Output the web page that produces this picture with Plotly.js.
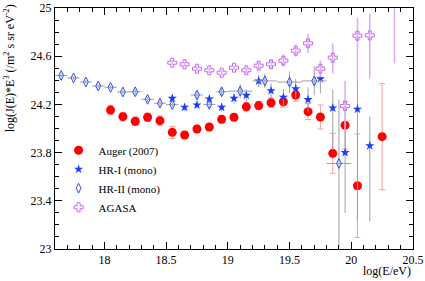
<!DOCTYPE html>
<html>
<head>
<meta charset="utf-8">
<script src="https://cdn.plot.ly/plotly-3.0.1.min.js"></script>
<style>html,body{margin:0;padding:0;background:#fff;}#chart{width:425px;height:281px;}</style>
</head>
<body>
<div id="chart"></div>
<script>
// ---- data ----
var augerX = [18.05,18.15,18.25,18.35,18.45,18.55,18.65,18.75,18.85,18.95,19.05,19.15,19.25,19.35,19.45,19.55,19.65,19.75,19.85,19.95,20.05,20.25];
var augerY = [24.153,24.098,24.06,24.093,24.065,23.968,23.946,23.996,24.012,24.076,24.093,24.18,24.19,24.214,24.222,24.278,24.14,24.095,23.794,24.027,23.525,23.932];
var augerErr = [0.04,0.035,0.035,0.035,0.04,0.05,0.03,0.03,0.03,0.03,0.03,0.035,0.035,0.04,0.045,0.05,0.066,0.1,0.166,0.2,0.43,0.44];

var hr1X = [18.55,18.65,18.75,18.85,18.95,19.05,19.15,19.25,19.35,19.45,19.55,19.65,19.75,19.85,19.95,20.05,20.15];
var hr1Y = [24.25,24.176,24.195,24.245,24.176,24.25,24.275,24.394,24.314,24.259,24.33,24.24,24.413,24.17,23.80,24.16,23.857];
var hr1ErrUp = [0.03,0.03,0.03,0.03,0.035,0.04,0.05,0.05,0.06,0.07,0.08,0.1,0.12,0.15,0.27,0.25,0.24];
var hr1ErrDn = [0.03,0.03,0.03,0.03,0.035,0.04,0.05,0.05,0.06,0.07,0.08,0.1,0.12,0.35,0.5,0.93,0.63];

var hr2X = [17.65,17.75,17.85,17.95,18.05,18.15,18.25,18.35,18.45,18.55,18.75,18.85,18.95,19.1,19.3,19.5,19.7,19.9];
var hr2Y = [24.44,24.42,24.386,24.353,24.342,24.303,24.305,24.242,24.21,24.198,24.278,24.20,24.305,24.31,24.395,24.385,24.395,23.71];
var hr2ErrY = [0.015,0.015,0.015,0.015,0.015,0.015,0.02,0.02,0.02,0.02,0.03,0.03,0.04,0.06,0.06,0.09,0.12,0.53];
var hr2ErrYDn = [0.015,0.015,0.015,0.015,0.015,0.015,0.02,0.02,0.02,0.02,0.03,0.03,0.04,0.06,0.06,0.09,0.12,0.8];
var hr2ErrX = [0.05,0.05,0.05,0.05,0.05,0.05,0.05,0.05,0.05,0.05,0.05,0.05,0.05,0.1,0.1,0.1,0.1,0.1];

var agasaX = [18.55,18.65,18.75,18.85,18.95,19.05,19.15,19.25,19.35,19.45,19.55,19.65,19.75,19.85,19.95,20.05,20.15,20.35];
var agasaY = [24.546,24.533,24.496,24.483,24.463,24.505,24.483,24.521,24.533,24.563,24.646,24.707,24.496,24.588,24.187,24.77,24.773,25.15];
var agasaErrUp = [0.02,0.02,0.02,0.02,0.02,0.02,0.025,0.03,0.035,0.05,0.05,0.08,0.07,0.12,0.21,0.15,0.18,0.3];
var agasaErrDn = [0.02,0.02,0.02,0.02,0.02,0.02,0.025,0.03,0.035,0.05,0.05,0.08,0.07,0.13,0.2,0.37,0.36,0.61];

var legendNames = ["Auger (2007)", "HR-I (mono)", "HR-II (mono)", "AGASA"];
var xTitle = "log(E/eV)";
var yTitle = "log(J(E)*E<sup>3</sup> (/m<sup>2</sup> s sr eV<sup>-2</sup>)";

// ---- traces ----
var serif = "Liberation Serif, Times New Roman, serif";
var traces = [
  {
    x: augerX, y: augerY, name: legendNames[0], type: "scatter", mode: "markers",
    marker: {symbol: "circle", size: 9, color: "#ff0000"},
    error_y: {type: "data", array: augerErr, color: "#f7a0a0", thickness: 1, width: 3}
  },
  {
    x: hr1X, y: hr1Y, name: legendNames[1], type: "scatter", mode: "markers",
    marker: {symbol: "star", size: 7, color: "#1a3cff"},
    error_y: {type: "data", symmetric: false, array: hr1ErrUp, arrayminus: hr1ErrDn, color: "#a0a0a0", thickness: 1, width: 0}
  },
  {
    x: hr2X, y: hr2Y, name: legendNames[2], type: "scatter", mode: "markers",
    marker: {symbol: "diamond-tall-open", size: 7, color: "#2a4cff", line: {width: 1}},
    error_y: {type: "data", symmetric: false, array: hr2ErrY, arrayminus: hr2ErrYDn, color: "#a0a0a0", thickness: 1, width: 0},
    error_x: {type: "data", array: hr2ErrX, color: "#a0a0a0", thickness: 1, width: 0}
  },
  {
    x: agasaX, y: agasaY, name: legendNames[3], type: "scatter", mode: "markers",
    marker: {symbol: "cross-open", size: 7.5, color: "#c766f5", line: {width: 1}},
    error_y: {type: "data", symmetric: false, array: agasaErrUp, arrayminus: agasaErrDn, color: "#dcaaf7", thickness: 1.5, width: 0}
  }
];

var axisCommon = {
  showgrid: false, zeroline: false, showline: true, linecolor: "#000", linewidth: 1,
  mirror: "allticks", ticks: "inside", ticklen: 7, tickcolor: "#000", tickwidth: 1,
  tickfont: {family: serif, size: 12, color: "#000"}
};

var layout = {
  width: 425, height: 281,
  margin: {l: 55, r: 12, t: 8, b: 32},
  paper_bgcolor: "#fff", plot_bgcolor: "#fff",
  showlegend: true,
  legend: {
    x: 0.01, y: 0.47, xanchor: "left", yanchor: "top",
    bgcolor: "rgba(0,0,0,0)", borderwidth: 0,
    font: {family: serif, size: 11, color: "#000"},
    tracegroupgap: 0, itemwidth: 30
  },
  xaxis: Object.assign({}, axisCommon, {
    range: [17.6, 20.5], tick0: 18, dtick: 0.5,
    minor: {dtick: 0.1, ticklen: 4, ticks: "inside", tickcolor: "#000"}
  }),
  yaxis: Object.assign({}, axisCommon, {
    range: [23, 25], tick0: 23, dtick: 0.4,
    minor: {dtick: 0.1, ticklen: 4, ticks: "inside", tickcolor: "#000"}
  }),
  annotations: [
    {text: yTitle, xref: "paper", yref: "paper", x: -0.125, y: 1.025, xanchor: "center", yanchor: "top",
     textangle: -90, showarrow: false, font: {family: serif, size: 12, color: "#000"}},
    {text: xTitle, xref: "paper", yref: "paper", x: 1, y: -0.093, xanchor: "right", yanchor: "middle",
     showarrow: false, font: {family: serif, size: 12, color: "#000"}}
  ]
};

Plotly.newPlot("chart", traces, layout, {displayModeBar: false, staticPlot: true});
</script>
</body>
</html>
